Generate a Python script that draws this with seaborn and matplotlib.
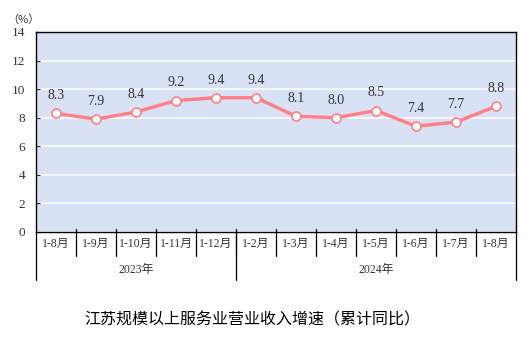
import matplotlib
matplotlib.use("Agg")
import matplotlib.pyplot as plt
import seaborn as sns
import pandas as pd
import numpy as np

periods = ["1-8月", "1-9月", "1-10月", "1-11月", "1-12月",
           "1-2月", "1-3月", "1-4月", "1-5月", "1-6月", "1-7月", "1-8月"]
years = ["2023年", "2024年"]
year_counts = [5, 7]
growth = [8.3, 7.9, 8.4, 9.2, 9.4, 9.4, 8.1, 8.0, 8.5, 7.4, 7.7, 8.8]
title = "江苏规模以上服务业营业收入增速（累计同比）"

sns.set_theme(style="white")
plt.rcParams["font.family"] = ["Liberation Serif", "Noto Sans CJK SC", "DejaVu Sans"]

df = pd.DataFrame({"pos": np.arange(len(growth)), "growth": growth})

fig = plt.figure(figsize=(5.31, 3.43), dpi=100)
ax = fig.add_axes([36 / 531, 1 - 232 / 343, 480 / 531, 200 / 343])
ax.set_facecolor("#D9E1F4")

line_color = "#FF7F86"
sns.lineplot(data=df, x="pos", y="growth", ax=ax, color=line_color, linewidth=2.4,
             marker="o", markersize=6.5, markerfacecolor="white",
             markeredgecolor=line_color, markeredgewidth=1.2)

ax.set_xlim(-0.5, len(growth) - 0.5)
ax.set_ylim(0, 14)
ax.set_yticks(np.arange(0, 15, 2))
ax.set_yticklabels([str(v) for v in range(0, 15, 2)], fontsize=9.5, color="#333333")
ax.yaxis.grid(True, color="white", linewidth=1.1)
ax.set_axisbelow(True)
ax.tick_params(axis="y", direction="in", length=3, width=0.8, left=True, pad=8)
ax.set_xticks([])
ax.set_xlabel("")
ax.set_ylabel("")
for s in ax.spines.values():
    s.set_color("black")
    s.set_linewidth(1.0)

for i, v in enumerate(growth):
    ax.annotate(f"{v:.1f}", (i, v), xytext=(0, 8), textcoords="offset points",
                ha="center", va="bottom", fontsize=10, color="#333333")

fig.text(23 / 531, 1 - 20 / 343, "（%）", ha="center", va="center",
         fontsize=8, color="#333333", family=["Noto Sans CJK SC", "DejaVu Sans"])

# category table under the axis
trans = ax.get_xaxis_transform()
n = len(periods)
for i, lab in enumerate(periods):
    ax.text(i, -0.06, lab, transform=trans, ha="center", va="center",
            fontsize=8.5, color="#333333")
for b in range(1, n):
    ax.plot([b - 0.5, b - 0.5], [0.015, -0.12], transform=trans, color="black",
            linewidth=0.9, clip_on=False)
edges = np.concatenate([[0], np.cumsum(year_counts)]) - 0.5
for e in edges:
    ax.plot([e, e], [0, -0.24], transform=trans, color="black",
            linewidth=0.9, clip_on=False)
for k, y in enumerate(years):
    mid = (edges[k] + edges[k + 1]) / 2
    ax.text(mid, -0.19, y, transform=trans, ha="center", va="center",
            fontsize=8.5, color="#333333")

fig.text(252 / 531, 1 - 320 / 343, title, ha="center", va="center",
         fontsize=11.5, color="black", family=["Noto Sans CJK SC", "DejaVu Sans"])

fig.savefig("out.png", dpi=100)
